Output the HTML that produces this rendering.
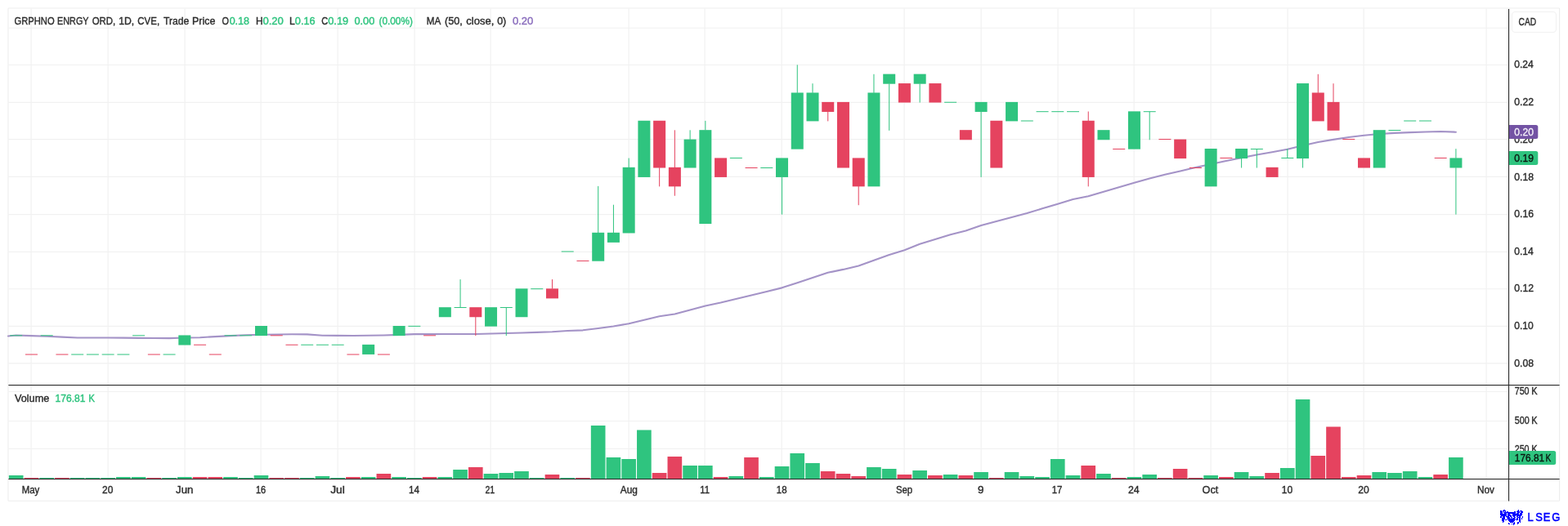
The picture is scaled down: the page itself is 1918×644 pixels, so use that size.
<!DOCTYPE html>
<html lang="en"><head><meta charset="utf-8"><title>GRPHNO ENRGY ORD - 1D chart</title>
<style>html,body{margin:0;padding:0;background:#fff;width:1918px;height:644px}svg{display:block}</style>
</head><body>
<svg width="1918" height="644" viewBox="0 0 1918 644" font-family='"Liberation Sans", Arial, Helvetica, sans-serif' font-size="12.05">
<rect x="0" y="0" width="1918" height="644" fill="#fff"/>
<rect x="10" y="10" width="1897.6" height="603.2" rx="0.8" fill="none" stroke="#ededed" stroke-width="1.1"/>
<g stroke="#f1f1f1" stroke-width="1.15" fill="none">
<path d="M38.1 10.5V586"/>
<path d="M132.1 10.5V586"/>
<path d="M226.1 10.5V586"/>
<path d="M319.1 10.5V586"/>
<path d="M413.1 10.5V586"/>
<path d="M507.1 10.5V586"/>
<path d="M600.1 10.5V586"/>
<path d="M769.1 10.5V586"/>
<path d="M862.1 10.5V586"/>
<path d="M956.1 10.5V586"/>
<path d="M1106.1 10.5V586"/>
<path d="M1200.1 10.5V586"/>
<path d="M1294.1 10.5V586"/>
<path d="M1387.1 10.5V586"/>
<path d="M1481.1 10.5V586"/>
<path d="M1575.1 10.5V586"/>
<path d="M1668.1 10.5V586"/>
<path d="M1818.1 10.5V586"/>
<path d="M10.5 34.2H1845"/>
<path d="M10.5 79.45H1845"/>
<path d="M10.5 125.3H1845"/>
<path d="M10.5 170.6H1845"/>
<path d="M10.5 216.4H1845"/>
<path d="M10.5 262.6H1845"/>
<path d="M10.5 308.3H1845"/>
<path d="M10.5 353.7H1845"/>
<path d="M10.5 399.3H1845"/>
<path d="M10.5 444.9H1845"/>
<path d="M10.5 479.50H1845"/>
<path d="M10.5 515.50H1845"/>
<path d="M10.5 549.50H1845"/>
</g>
<g>
<rect x="10.87" y="582.00" width="17.65" height="4.20" fill="#2fc47f"/>
<rect x="29.61" y="585.00" width="17.65" height="1.20" fill="#e5435f"/>
<rect x="48.35" y="585.00" width="17.65" height="1.20" fill="#2fc47f"/>
<rect x="67.08" y="585.00" width="17.65" height="1.20" fill="#e5435f"/>
<rect x="85.82" y="585.00" width="17.65" height="1.20" fill="#2fc47f"/>
<rect x="104.55" y="585.00" width="17.65" height="1.20" fill="#2fc47f"/>
<rect x="123.29" y="585.00" width="17.65" height="1.20" fill="#2fc47f"/>
<rect x="142.03" y="584.00" width="17.65" height="2.20" fill="#2fc47f"/>
<rect x="160.76" y="584.00" width="17.65" height="2.20" fill="#2fc47f"/>
<rect x="179.50" y="585.00" width="17.65" height="1.20" fill="#e5435f"/>
<rect x="198.23" y="585.00" width="17.65" height="1.20" fill="#2fc47f"/>
<rect x="216.97" y="584.00" width="17.65" height="2.20" fill="#2fc47f"/>
<rect x="235.71" y="584.00" width="17.65" height="2.20" fill="#e5435f"/>
<rect x="254.44" y="584.00" width="17.65" height="2.20" fill="#e5435f"/>
<rect x="273.18" y="584.00" width="17.65" height="2.20" fill="#2fc47f"/>
<rect x="291.91" y="585.00" width="17.65" height="1.20" fill="#2fc47f"/>
<rect x="310.65" y="582.00" width="17.65" height="4.20" fill="#2fc47f"/>
<rect x="329.39" y="585.00" width="17.65" height="1.20" fill="#e5435f"/>
<rect x="348.12" y="585.00" width="17.65" height="1.20" fill="#e5435f"/>
<rect x="366.86" y="585.00" width="17.65" height="1.20" fill="#2fc47f"/>
<rect x="385.59" y="583.00" width="17.65" height="3.20" fill="#2fc47f"/>
<rect x="404.33" y="585.00" width="17.65" height="1.20" fill="#2fc47f"/>
<rect x="423.07" y="584.00" width="17.65" height="2.20" fill="#e5435f"/>
<rect x="441.80" y="584.00" width="17.65" height="2.20" fill="#2fc47f"/>
<rect x="460.54" y="580.00" width="17.65" height="6.20" fill="#e5435f"/>
<rect x="479.27" y="584.00" width="17.65" height="2.20" fill="#2fc47f"/>
<rect x="498.01" y="585.00" width="17.65" height="1.20" fill="#2fc47f"/>
<rect x="516.75" y="584.00" width="17.65" height="2.20" fill="#e5435f"/>
<rect x="535.48" y="584.00" width="17.65" height="2.20" fill="#2fc47f"/>
<rect x="554.22" y="575.00" width="17.65" height="11.20" fill="#2fc47f"/>
<rect x="572.95" y="572.00" width="17.65" height="14.20" fill="#e5435f"/>
<rect x="591.69" y="580.00" width="17.65" height="6.20" fill="#2fc47f"/>
<rect x="610.43" y="579.00" width="17.65" height="7.20" fill="#2fc47f"/>
<rect x="629.16" y="577.00" width="17.65" height="9.20" fill="#2fc47f"/>
<rect x="647.90" y="585.00" width="17.65" height="1.20" fill="#2fc47f"/>
<rect x="666.63" y="581.00" width="17.65" height="5.20" fill="#e5435f"/>
<rect x="685.37" y="585.00" width="17.65" height="1.20" fill="#2fc47f"/>
<rect x="704.11" y="585.00" width="17.65" height="1.20" fill="#e5435f"/>
<rect x="722.84" y="521.00" width="17.65" height="65.20" fill="#2fc47f"/>
<rect x="741.58" y="560.00" width="17.65" height="26.20" fill="#2fc47f"/>
<rect x="760.31" y="562.00" width="17.65" height="24.20" fill="#2fc47f"/>
<rect x="779.05" y="526.50" width="17.65" height="59.70" fill="#2fc47f"/>
<rect x="797.79" y="579.00" width="17.65" height="7.20" fill="#e5435f"/>
<rect x="816.52" y="559.00" width="17.65" height="27.20" fill="#e5435f"/>
<rect x="835.26" y="570.00" width="17.65" height="16.20" fill="#2fc47f"/>
<rect x="853.99" y="570.00" width="17.65" height="16.20" fill="#2fc47f"/>
<rect x="872.73" y="584.00" width="17.65" height="2.20" fill="#e5435f"/>
<rect x="891.47" y="583.00" width="17.65" height="3.20" fill="#2fc47f"/>
<rect x="910.20" y="560.00" width="17.65" height="26.20" fill="#e5435f"/>
<rect x="928.94" y="584.00" width="17.65" height="2.20" fill="#2fc47f"/>
<rect x="947.67" y="571.00" width="17.65" height="15.20" fill="#2fc47f"/>
<rect x="966.41" y="555.00" width="17.65" height="31.20" fill="#2fc47f"/>
<rect x="985.15" y="567.00" width="17.65" height="19.20" fill="#2fc47f"/>
<rect x="1003.88" y="577.00" width="17.65" height="9.20" fill="#e5435f"/>
<rect x="1022.62" y="580.00" width="17.65" height="6.20" fill="#e5435f"/>
<rect x="1041.35" y="583.00" width="17.65" height="3.20" fill="#e5435f"/>
<rect x="1060.09" y="572.00" width="17.65" height="14.20" fill="#2fc47f"/>
<rect x="1078.83" y="574.00" width="17.65" height="12.20" fill="#2fc47f"/>
<rect x="1097.56" y="581.00" width="17.65" height="5.20" fill="#e5435f"/>
<rect x="1116.30" y="576.00" width="17.65" height="10.20" fill="#2fc47f"/>
<rect x="1135.03" y="582.00" width="17.65" height="4.20" fill="#e5435f"/>
<rect x="1153.77" y="581.00" width="17.65" height="5.20" fill="#2fc47f"/>
<rect x="1172.51" y="582.00" width="17.65" height="4.20" fill="#e5435f"/>
<rect x="1191.24" y="578.00" width="17.65" height="8.20" fill="#2fc47f"/>
<rect x="1209.98" y="585.00" width="17.65" height="1.20" fill="#e5435f"/>
<rect x="1228.71" y="578.00" width="17.65" height="8.20" fill="#2fc47f"/>
<rect x="1247.45" y="583.00" width="17.65" height="3.20" fill="#2fc47f"/>
<rect x="1266.19" y="584.00" width="17.65" height="2.20" fill="#2fc47f"/>
<rect x="1284.92" y="562.00" width="17.65" height="24.20" fill="#2fc47f"/>
<rect x="1303.66" y="582.00" width="17.65" height="4.20" fill="#2fc47f"/>
<rect x="1322.39" y="570.00" width="17.65" height="16.20" fill="#e5435f"/>
<rect x="1341.13" y="580.00" width="17.65" height="6.20" fill="#2fc47f"/>
<rect x="1359.87" y="585.00" width="17.65" height="1.20" fill="#e5435f"/>
<rect x="1378.60" y="584.00" width="17.65" height="2.20" fill="#2fc47f"/>
<rect x="1397.34" y="581.00" width="17.65" height="5.20" fill="#2fc47f"/>
<rect x="1416.07" y="585.00" width="17.65" height="1.20" fill="#e5435f"/>
<rect x="1434.81" y="574.00" width="17.65" height="12.20" fill="#e5435f"/>
<rect x="1453.55" y="585.00" width="17.65" height="1.20" fill="#e5435f"/>
<rect x="1472.28" y="582.00" width="17.65" height="4.20" fill="#2fc47f"/>
<rect x="1491.02" y="584.00" width="17.65" height="2.20" fill="#e5435f"/>
<rect x="1509.75" y="578.00" width="17.65" height="8.20" fill="#2fc47f"/>
<rect x="1528.49" y="583.00" width="17.65" height="3.20" fill="#2fc47f"/>
<rect x="1547.23" y="579.00" width="17.65" height="7.20" fill="#e5435f"/>
<rect x="1565.96" y="573.00" width="17.65" height="13.20" fill="#2fc47f"/>
<rect x="1584.70" y="489.00" width="17.65" height="97.20" fill="#2fc47f"/>
<rect x="1603.43" y="558.00" width="17.65" height="28.20" fill="#e5435f"/>
<rect x="1622.17" y="522.50" width="17.65" height="63.70" fill="#e5435f"/>
<rect x="1640.91" y="584.00" width="17.65" height="2.20" fill="#e5435f"/>
<rect x="1659.64" y="582.00" width="17.65" height="4.20" fill="#e5435f"/>
<rect x="1678.38" y="578.00" width="17.65" height="8.20" fill="#2fc47f"/>
<rect x="1697.11" y="579.00" width="17.65" height="7.20" fill="#2fc47f"/>
<rect x="1715.85" y="577.00" width="17.65" height="9.20" fill="#2fc47f"/>
<rect x="1734.59" y="584.00" width="17.65" height="2.20" fill="#2fc47f"/>
<rect x="1753.32" y="581.00" width="17.65" height="5.20" fill="#e5435f"/>
<rect x="1772.06" y="560.00" width="17.65" height="26.20" fill="#2fc47f"/>
</g>
<path d="M10.0 411.50 L19.7 410.43 L38.5 411.08 L57.2 411.69 L75.9 412.60 L94.7 413.50 L113.4 413.50 L132.1 413.50 L150.9 413.66 L169.6 413.85 L188.3 414.04 L207.1 414.10 L225.8 413.52 L244.6 413.21 L263.3 412.12 L282.0 411.13 L300.8 410.30 L319.5 409.70 L338.2 409.43 L357.0 409.31 L375.7 409.34 L394.4 410.74 L413.2 410.90 L431.9 410.99 L450.7 410.74 L469.4 410.48 L488.1 409.88 L506.9 409.13 L525.6 409.08 L544.3 409.05 L563.1 409.02 L581.8 408.99 L600.5 408.51 L619.3 408.04 L638.0 407.55 L656.7 406.92 L675.5 406.29 L694.2 404.96 L713.0 404.33 L731.7 401.98 L750.4 399.56 L769.2 396.21 L787.9 391.70 L806.6 387.17 L825.4 384.49 L844.1 379.47 L862.8 374.47 L881.6 370.44 L900.3 365.93 L919.1 361.42 L937.8 356.91 L956.5 352.36 L975.3 346.16 L994.0 339.97 L1012.7 333.77 L1031.5 329.90 L1050.2 325.43 L1068.9 318.70 L1087.7 311.98 L1106.4 306.26 L1125.1 298.79 L1143.9 292.99 L1162.6 287.19 L1181.4 282.51 L1200.1 275.94 L1218.8 270.94 L1237.6 265.95 L1256.3 260.95 L1275.0 255.34 L1293.8 249.71 L1312.5 244.09 L1331.2 240.17 L1350.0 234.69 L1368.7 229.18 L1387.5 223.83 L1406.2 218.49 L1424.9 213.83 L1443.7 209.44 L1462.4 205.04 L1481.1 200.98 L1499.9 197.06 L1518.6 193.13 L1537.3 189.59 L1556.1 186.21 L1574.8 182.83 L1593.5 178.30 L1612.3 173.93 L1631.0 170.89 L1649.8 168.08 L1668.5 165.79 L1687.2 163.95 L1706.0 162.83 L1724.7 162.16 L1743.4 161.50 L1762.2 160.95 L1780.9 161.69" fill="none" stroke="#a493c7" stroke-width="2.1" stroke-linejoin="round" stroke-linecap="round"/>
<g>
<rect x="12.22" y="410.29" width="15.00" height="1" fill="#2fc47f"/>
<rect x="30.96" y="433.50" width="15.00" height="1" fill="#e5435f"/>
<rect x="49.70" y="410.29" width="15.00" height="1" fill="#2fc47f"/>
<rect x="68.43" y="433.50" width="15.00" height="1" fill="#e5435f"/>
<rect x="87.17" y="433.50" width="15.00" height="1" fill="#2fc47f"/>
<rect x="105.90" y="433.50" width="15.00" height="1" fill="#2fc47f"/>
<rect x="124.64" y="433.50" width="15.00" height="1" fill="#2fc47f"/>
<rect x="143.38" y="433.50" width="15.00" height="1" fill="#2fc47f"/>
<rect x="162.11" y="410.29" width="15.00" height="1" fill="#2fc47f"/>
<rect x="180.85" y="433.50" width="15.00" height="1" fill="#e5435f"/>
<rect x="199.58" y="433.50" width="15.00" height="1" fill="#2fc47f"/>
<rect x="218.32" y="410.44" width="15.00" height="12.07" fill="#2fc47f"/>
<rect x="237.06" y="421.71" width="15.00" height="1" fill="#e5435f"/>
<rect x="255.79" y="433.50" width="15.00" height="1" fill="#e5435f"/>
<rect x="274.53" y="410.29" width="15.00" height="1" fill="#2fc47f"/>
<rect x="293.26" y="410.29" width="15.00" height="1" fill="#2fc47f"/>
<rect x="312.00" y="399.01" width="15.00" height="12.07" fill="#2fc47f"/>
<rect x="330.74" y="410.29" width="15.00" height="1" fill="#e5435f"/>
<rect x="349.47" y="421.71" width="15.00" height="1" fill="#e5435f"/>
<rect x="368.21" y="421.71" width="15.00" height="1" fill="#2fc47f"/>
<rect x="386.94" y="421.71" width="15.00" height="1" fill="#2fc47f"/>
<rect x="405.68" y="421.71" width="15.00" height="1" fill="#2fc47f"/>
<rect x="424.42" y="433.50" width="15.00" height="1" fill="#e5435f"/>
<rect x="443.15" y="421.86" width="15.00" height="12.07" fill="#2fc47f"/>
<rect x="461.89" y="433.50" width="15.00" height="1" fill="#e5435f"/>
<rect x="480.62" y="399.01" width="15.00" height="12.07" fill="#2fc47f"/>
<rect x="499.36" y="398.86" width="15.00" height="1" fill="#2fc47f"/>
<rect x="518.10" y="410.29" width="15.00" height="1" fill="#e5435f"/>
<rect x="536.83" y="376.17" width="15.00" height="12.07" fill="#2fc47f"/>
<rect x="562.57" y="342.06" width="1" height="34.46" fill="#2fc47f"/>
<rect x="555.57" y="376.02" width="15.00" height="1" fill="#2fc47f"/>
<rect x="581.30" y="387.94" width="1" height="23.14" fill="#e5435f"/>
<rect x="574.30" y="376.17" width="15.00" height="12.07" fill="#e5435f"/>
<rect x="593.04" y="376.17" width="15.00" height="23.49" fill="#2fc47f"/>
<rect x="618.78" y="376.52" width="1" height="34.56" fill="#2fc47f"/>
<rect x="611.78" y="376.02" width="15.00" height="1" fill="#2fc47f"/>
<rect x="630.51" y="353.33" width="15.00" height="34.91" fill="#2fc47f"/>
<rect x="649.25" y="353.18" width="15.00" height="1" fill="#2fc47f"/>
<rect x="674.98" y="342.06" width="1" height="11.62" fill="#e5435f"/>
<rect x="667.98" y="353.33" width="15.00" height="12.07" fill="#e5435f"/>
<rect x="686.72" y="307.49" width="15.00" height="1" fill="#2fc47f"/>
<rect x="705.46" y="318.92" width="15.00" height="1" fill="#e5435f"/>
<rect x="731.19" y="227.85" width="1" height="57.31" fill="#2fc47f"/>
<rect x="724.19" y="284.80" width="15.00" height="34.91" fill="#2fc47f"/>
<rect x="749.93" y="250.69" width="1" height="34.46" fill="#2fc47f"/>
<rect x="742.93" y="284.80" width="15.00" height="12.07" fill="#2fc47f"/>
<rect x="768.66" y="193.58" width="1" height="11.62" fill="#2fc47f"/>
<rect x="761.66" y="204.85" width="15.00" height="80.60" fill="#2fc47f"/>
<rect x="780.40" y="147.75" width="15.00" height="69.18" fill="#2fc47f"/>
<rect x="806.14" y="205.20" width="1" height="23.14" fill="#e5435f"/>
<rect x="799.14" y="147.75" width="15.00" height="57.76" fill="#e5435f"/>
<rect x="824.87" y="159.32" width="1" height="45.88" fill="#e5435f"/>
<rect x="824.87" y="228.05" width="1" height="11.72" fill="#e5435f"/>
<rect x="817.87" y="204.85" width="15.00" height="23.49" fill="#e5435f"/>
<rect x="843.61" y="159.32" width="1" height="11.62" fill="#2fc47f"/>
<rect x="836.61" y="170.59" width="15.00" height="34.91" fill="#2fc47f"/>
<rect x="862.34" y="147.90" width="1" height="11.62" fill="#2fc47f"/>
<rect x="855.34" y="159.17" width="15.00" height="114.86" fill="#2fc47f"/>
<rect x="874.08" y="193.43" width="15.00" height="23.49" fill="#e5435f"/>
<rect x="892.82" y="193.00" width="15.00" height="1" fill="#2fc47f"/>
<rect x="911.55" y="205.00" width="15.00" height="1" fill="#e5435f"/>
<rect x="930.29" y="205.00" width="15.00" height="1" fill="#2fc47f"/>
<rect x="956.02" y="216.62" width="1" height="45.98" fill="#2fc47f"/>
<rect x="949.02" y="193.43" width="15.00" height="23.49" fill="#2fc47f"/>
<rect x="974.76" y="79.37" width="1" height="34.46" fill="#2fc47f"/>
<rect x="967.76" y="113.48" width="15.00" height="69.18" fill="#2fc47f"/>
<rect x="993.50" y="102.21" width="1" height="11.62" fill="#2fc47f"/>
<rect x="986.50" y="113.48" width="15.00" height="34.91" fill="#2fc47f"/>
<rect x="1012.23" y="136.68" width="1" height="11.72" fill="#e5435f"/>
<rect x="1005.23" y="124.90" width="15.00" height="12.07" fill="#e5435f"/>
<rect x="1023.97" y="124.90" width="15.00" height="80.60" fill="#e5435f"/>
<rect x="1049.70" y="228.05" width="1" height="23.14" fill="#e5435f"/>
<rect x="1042.70" y="193.43" width="15.00" height="34.91" fill="#e5435f"/>
<rect x="1068.44" y="90.79" width="1" height="23.04" fill="#2fc47f"/>
<rect x="1061.44" y="113.48" width="15.00" height="114.86" fill="#2fc47f"/>
<rect x="1087.18" y="102.41" width="1" height="57.41" fill="#2fc47f"/>
<rect x="1080.18" y="90.64" width="15.00" height="12.07" fill="#2fc47f"/>
<rect x="1098.91" y="102.06" width="15.00" height="23.49" fill="#e5435f"/>
<rect x="1124.65" y="102.41" width="1" height="23.14" fill="#2fc47f"/>
<rect x="1117.65" y="90.64" width="15.00" height="12.07" fill="#2fc47f"/>
<rect x="1136.38" y="102.06" width="15.00" height="23.49" fill="#e5435f"/>
<rect x="1155.12" y="124.75" width="15.00" height="1" fill="#2fc47f"/>
<rect x="1173.86" y="159.17" width="15.00" height="12.07" fill="#e5435f"/>
<rect x="1199.59" y="136.68" width="1" height="80.25" fill="#2fc47f"/>
<rect x="1192.59" y="124.90" width="15.00" height="12.07" fill="#2fc47f"/>
<rect x="1211.33" y="147.75" width="15.00" height="57.76" fill="#e5435f"/>
<rect x="1230.06" y="124.90" width="15.00" height="23.49" fill="#2fc47f"/>
<rect x="1248.80" y="147.50" width="15.00" height="1" fill="#2fc47f"/>
<rect x="1267.54" y="136.18" width="15.00" height="1" fill="#2fc47f"/>
<rect x="1286.27" y="136.18" width="15.00" height="1" fill="#2fc47f"/>
<rect x="1305.01" y="136.18" width="15.00" height="1" fill="#2fc47f"/>
<rect x="1330.74" y="136.48" width="1" height="11.62" fill="#e5435f"/>
<rect x="1330.74" y="216.62" width="1" height="11.72" fill="#e5435f"/>
<rect x="1323.74" y="147.75" width="15.00" height="69.18" fill="#e5435f"/>
<rect x="1342.48" y="159.17" width="15.00" height="12.07" fill="#2fc47f"/>
<rect x="1361.22" y="182.00" width="15.00" height="1" fill="#e5435f"/>
<rect x="1379.95" y="136.33" width="15.00" height="46.33" fill="#2fc47f"/>
<rect x="1405.69" y="136.68" width="1" height="34.56" fill="#2fc47f"/>
<rect x="1398.69" y="136.18" width="15.00" height="1" fill="#2fc47f"/>
<rect x="1417.42" y="170.00" width="15.00" height="1" fill="#e5435f"/>
<rect x="1436.16" y="170.59" width="15.00" height="23.49" fill="#e5435f"/>
<rect x="1454.90" y="205.00" width="15.00" height="1" fill="#e5435f"/>
<rect x="1473.63" y="182.01" width="15.00" height="46.34" fill="#2fc47f"/>
<rect x="1492.37" y="193.00" width="15.00" height="1" fill="#e5435f"/>
<rect x="1518.10" y="193.78" width="1" height="11.72" fill="#2fc47f"/>
<rect x="1511.10" y="182.01" width="15.00" height="12.07" fill="#2fc47f"/>
<rect x="1536.84" y="182.36" width="1" height="23.14" fill="#2fc47f"/>
<rect x="1529.84" y="182.00" width="15.00" height="1" fill="#2fc47f"/>
<rect x="1548.58" y="204.85" width="15.00" height="12.07" fill="#e5435f"/>
<rect x="1574.31" y="182.16" width="1" height="11.62" fill="#2fc47f"/>
<rect x="1567.31" y="193.00" width="15.00" height="1" fill="#2fc47f"/>
<rect x="1593.05" y="193.78" width="1" height="11.72" fill="#2fc47f"/>
<rect x="1586.05" y="102.06" width="15.00" height="92.02" fill="#2fc47f"/>
<rect x="1611.78" y="90.79" width="1" height="23.04" fill="#e5435f"/>
<rect x="1604.78" y="113.48" width="15.00" height="34.91" fill="#e5435f"/>
<rect x="1630.52" y="102.21" width="1" height="23.04" fill="#e5435f"/>
<rect x="1623.52" y="124.90" width="15.00" height="34.91" fill="#e5435f"/>
<rect x="1642.26" y="170.00" width="15.00" height="1" fill="#e5435f"/>
<rect x="1660.99" y="193.43" width="15.00" height="12.07" fill="#e5435f"/>
<rect x="1679.73" y="159.17" width="15.00" height="46.33" fill="#2fc47f"/>
<rect x="1698.46" y="159.02" width="15.00" height="1" fill="#2fc47f"/>
<rect x="1717.20" y="147.50" width="15.00" height="1" fill="#2fc47f"/>
<rect x="1735.94" y="147.50" width="15.00" height="1" fill="#2fc47f"/>
<rect x="1754.67" y="193.00" width="15.00" height="1" fill="#e5435f"/>
<rect x="1780.41" y="182.16" width="1" height="11.62" fill="#2fc47f"/>
<rect x="1780.41" y="205.20" width="1" height="57.41" fill="#2fc47f"/>
<rect x="1773.41" y="193.43" width="15.00" height="12.07" fill="#2fc47f"/>
</g>
<g fill="#2b2b2b">
<rect x="1845" y="11" width="1.1" height="602.5"/>
<rect x="10.4" y="471" width="1897.2" height="1.1"/>
<rect x="10.4" y="586" width="1897.2" height="1.1"/>
</g>
<text x="1852.3" y="82.69" fill="#2e2e2e" stroke="#2e2e2e" stroke-width="0.4" textLength="23.4" lengthAdjust="spacingAndGlyphs">0.24</text>
<text x="1852.3" y="128.82" fill="#2e2e2e" stroke="#2e2e2e" stroke-width="0.4" textLength="23.66" lengthAdjust="spacingAndGlyphs">0.22</text>
<text x="1852.3" y="174.82" fill="#2e2e2e" stroke="#2e2e2e" stroke-width="0.4" textLength="23.4" lengthAdjust="spacingAndGlyphs">0.20</text>
<text x="1852.3" y="220.82" fill="#2e2e2e" stroke="#2e2e2e" stroke-width="0.4" textLength="23.66" lengthAdjust="spacingAndGlyphs">0.18</text>
<text x="1852.3" y="265.88" fill="#2e2e2e" stroke="#2e2e2e" stroke-width="0.4" textLength="23.66" lengthAdjust="spacingAndGlyphs">0.16</text>
<text x="1852.3" y="311.82" fill="#2e2e2e" stroke="#2e2e2e" stroke-width="0.4" textLength="23.4" lengthAdjust="spacingAndGlyphs">0.14</text>
<text x="1852.3" y="356.97" fill="#2e2e2e" stroke="#2e2e2e" stroke-width="0.4" textLength="23.66" lengthAdjust="spacingAndGlyphs">0.12</text>
<text x="1852.3" y="402.82" fill="#2e2e2e" stroke="#2e2e2e" stroke-width="0.4" textLength="23.4" lengthAdjust="spacingAndGlyphs">0.10</text>
<text x="1852.3" y="449.38" fill="#2e2e2e" stroke="#2e2e2e" stroke-width="0.4" textLength="23.66" lengthAdjust="spacingAndGlyphs">0.08</text>
<text x="1852.75" y="482.7" fill="#2e2e2e" stroke="#2e2e2e" stroke-width="0.4" textLength="17.82" lengthAdjust="spacingAndGlyphs">750</text>
<text x="1873.15" y="482.7" fill="#2e2e2e" stroke="#2e2e2e" stroke-width="0.4" textLength="7.3" lengthAdjust="spacingAndGlyphs">K</text>
<text x="1852.75" y="518.6" fill="#2e2e2e" stroke="#2e2e2e" stroke-width="0.4" textLength="17.84" lengthAdjust="spacingAndGlyphs">500</text>
<text x="1873.15" y="518.6" fill="#2e2e2e" stroke="#2e2e2e" stroke-width="0.4" textLength="7.3" lengthAdjust="spacingAndGlyphs">K</text>
<text x="1852.75" y="554.3" fill="#2e2e2e" stroke="#2e2e2e" stroke-width="0.4" textLength="17.82" lengthAdjust="spacingAndGlyphs">250</text>
<text x="1873.15" y="554.3" fill="#2e2e2e" stroke="#2e2e2e" stroke-width="0.4" textLength="7.3" lengthAdjust="spacingAndGlyphs">K</text>
<path d="M1846 153.00h32.8a2.5 2.5 0 0 1 2.5 2.5v12a2.5 2.5 0 0 1 -2.5 2.5h-32.8z" fill="#7353a4"/>
<text x="1852.35" y="165.8" fill="#f6f2fb" stroke="#f6f2fb" stroke-width="0.3" textLength="23.51" lengthAdjust="spacingAndGlyphs">0.20</text>
<path d="M1846 185.00h32.8a2.5 2.5 0 0 1 2.5 2.5v12a2.5 2.5 0 0 1 -2.5 2.5h-32.8z" fill="#2fc47f"/>
<text x="1852.35" y="197.8" fill="#0b1a12" stroke="#0b1a12" stroke-width="0.4" textLength="23.51" lengthAdjust="spacingAndGlyphs">0.19</text>
<path d="M1846 552.00h54.7a2.5 2.5 0 0 1 2.5 2.5v12a2.5 2.5 0 0 1 -2.5 2.5h-54.7z" fill="#2fc47f"/>
<text x="1852.85" y="565.2" fill="#0b1a12" stroke="#0b1a12" stroke-width="0.4" textLength="36.29" lengthAdjust="spacingAndGlyphs">176.81</text>
<text x="1890.45" y="565.2" fill="#0b1a12" stroke="#0b1a12" stroke-width="0.4" textLength="6.72" lengthAdjust="spacingAndGlyphs">K</text>
<rect x="1849.5" y="14.5" width="54" height="25" rx="4" ry="4" fill="#fff" stroke="#f1f1f1" stroke-width="1.1"/>
<text x="1857.55" y="30.6" fill="#2e2e2e" stroke="#2e2e2e" stroke-width="0.4" textLength="21.55" lengthAdjust="spacingAndGlyphs">CAD</text>
<text x="26.7" y="603.7" fill="#2e2e2e" stroke="#2e2e2e" stroke-width="0.4" textLength="21.54" lengthAdjust="spacingAndGlyphs">May</text>
<text x="125.1" y="603.7" fill="#2e2e2e" stroke="#2e2e2e" stroke-width="0.4" textLength="13.3" lengthAdjust="spacingAndGlyphs">20</text>
<text x="215.1" y="603.7" fill="#2e2e2e" stroke="#2e2e2e" stroke-width="0.4" textLength="21.25" lengthAdjust="spacingAndGlyphs">Jun</text>
<text x="312.95" y="603.7" fill="#2e2e2e" stroke="#2e2e2e" stroke-width="0.4" textLength="12.26" lengthAdjust="spacingAndGlyphs">16</text>
<text x="404.2" y="603.7" fill="#2e2e2e" stroke="#2e2e2e" stroke-width="0.4" textLength="17.6" lengthAdjust="spacingAndGlyphs">Jul</text>
<text x="500.05" y="603.7" fill="#2e2e2e" stroke="#2e2e2e" stroke-width="0.4" textLength="13.09" lengthAdjust="spacingAndGlyphs">14</text>
<text x="593.45" y="603.7" fill="#2e2e2e" stroke="#2e2e2e" stroke-width="0.4" textLength="11.86" lengthAdjust="spacingAndGlyphs">21</text>
<text x="758.75" y="603.7" fill="#2e2e2e" stroke="#2e2e2e" stroke-width="0.4" textLength="21.13" lengthAdjust="spacingAndGlyphs">Aug</text>
<text x="856.35" y="603.7" fill="#2e2e2e" stroke="#2e2e2e" stroke-width="0.4" textLength="11.68" lengthAdjust="spacingAndGlyphs">11</text>
<text x="949.75" y="603.7" fill="#2e2e2e" stroke="#2e2e2e" stroke-width="0.4" textLength="12.81" lengthAdjust="spacingAndGlyphs">18</text>
<text x="1095.95" y="603.7" fill="#2e2e2e" stroke="#2e2e2e" stroke-width="0.4" textLength="20.15" lengthAdjust="spacingAndGlyphs">Sep</text>
<text x="1196.1" y="603.7" fill="#2e2e2e" stroke="#2e2e2e" stroke-width="0.4" textLength="7.44" lengthAdjust="spacingAndGlyphs">9</text>
<text x="1286.65" y="603.7" fill="#2e2e2e" stroke="#2e2e2e" stroke-width="0.4" textLength="12.59" lengthAdjust="spacingAndGlyphs">17</text>
<text x="1380.0" y="603.7" fill="#2e2e2e" stroke="#2e2e2e" stroke-width="0.4" textLength="13.67" lengthAdjust="spacingAndGlyphs">24</text>
<text x="1470.6" y="603.7" fill="#2e2e2e" stroke="#2e2e2e" stroke-width="0.4" textLength="19.73" lengthAdjust="spacingAndGlyphs">Oct</text>
<text x="1567.85" y="603.7" fill="#2e2e2e" stroke="#2e2e2e" stroke-width="0.4" textLength="13.35" lengthAdjust="spacingAndGlyphs">10</text>
<text x="1661.3" y="603.7" fill="#2e2e2e" stroke="#2e2e2e" stroke-width="0.4" textLength="13.41" lengthAdjust="spacingAndGlyphs">20</text>
<text x="1807.05" y="603.7" fill="#2e2e2e" stroke="#2e2e2e" stroke-width="0.4" textLength="20.97" lengthAdjust="spacingAndGlyphs">Nov</text>
<text x="17.5" y="29.9" fill="#2e2e2e" stroke="#2e2e2e" stroke-width="0.4" textLength="49.13" lengthAdjust="spacingAndGlyphs">GRPHNO</text>
<text x="70.05" y="29.9" fill="#2e2e2e" stroke="#2e2e2e" stroke-width="0.4" textLength="38.46" lengthAdjust="spacingAndGlyphs">ENRGY</text>
<text x="112.65" y="29.9" fill="#2e2e2e" stroke="#2e2e2e" stroke-width="0.4" textLength="28.56" lengthAdjust="spacingAndGlyphs">ORD,</text>
<text x="145.15" y="29.9" fill="#2e2e2e" stroke="#2e2e2e" stroke-width="0.4" textLength="19.03" lengthAdjust="spacingAndGlyphs">1D,</text>
<text x="168.3" y="29.9" fill="#2e2e2e" stroke="#2e2e2e" stroke-width="0.4" textLength="26.81" lengthAdjust="spacingAndGlyphs">CVE,</text>
<text x="200.0" y="29.9" fill="#2e2e2e" stroke="#2e2e2e" stroke-width="0.4" textLength="31.28" lengthAdjust="spacingAndGlyphs">Trade</text>
<text x="235.05" y="29.9" fill="#2e2e2e" stroke="#2e2e2e" stroke-width="0.4" textLength="28.29" lengthAdjust="spacingAndGlyphs">Price</text>
<text x="271.55" y="29.9" fill="#2e2e2e" stroke="#2e2e2e" stroke-width="0.4" textLength="8.45" lengthAdjust="spacingAndGlyphs">O</text>
<text x="280.65" y="29.9" fill="#2fc47f" stroke="#2fc47f" stroke-width="0.4" textLength="24.38" lengthAdjust="spacingAndGlyphs">0.18</text>
<text x="312.95" y="29.9" fill="#2e2e2e" stroke="#2e2e2e" stroke-width="0.4" textLength="8.53" lengthAdjust="spacingAndGlyphs">H</text>
<text x="321.45" y="29.9" fill="#2fc47f" stroke="#2fc47f" stroke-width="0.4" textLength="25.39" lengthAdjust="spacingAndGlyphs">0.20</text>
<text x="354.05" y="29.9" fill="#2e2e2e" stroke="#2e2e2e" stroke-width="0.4" textLength="6.77" lengthAdjust="spacingAndGlyphs">L</text>
<text x="360.85" y="29.9" fill="#2fc47f" stroke="#2fc47f" stroke-width="0.4" textLength="24.69" lengthAdjust="spacingAndGlyphs">0.16</text>
<text x="393.2" y="29.9" fill="#2e2e2e" stroke="#2e2e2e" stroke-width="0.4" textLength="7.95" lengthAdjust="spacingAndGlyphs">C</text>
<text x="401.25" y="29.9" fill="#2fc47f" stroke="#2fc47f" stroke-width="0.4" textLength="24.85" lengthAdjust="spacingAndGlyphs">0.19</text>
<text x="433.55" y="29.9" fill="#2fc47f" stroke="#2fc47f" stroke-width="0.4" textLength="24.68" lengthAdjust="spacingAndGlyphs">0.00</text>
<text x="463.5" y="29.9" fill="#2fc47f" stroke="#2fc47f" stroke-width="0.4" textLength="41.37" lengthAdjust="spacingAndGlyphs">(0.00%)</text>
<text x="521.75" y="29.9" fill="#2e2e2e" stroke="#2e2e2e" stroke-width="0.4" textLength="17.46" lengthAdjust="spacingAndGlyphs">MA</text>
<text x="544.1" y="29.9" fill="#2e2e2e" stroke="#2e2e2e" stroke-width="0.4" textLength="21.67" lengthAdjust="spacingAndGlyphs">(50,</text>
<text x="570.35" y="29.9" fill="#2e2e2e" stroke="#2e2e2e" stroke-width="0.4" textLength="33.93" lengthAdjust="spacingAndGlyphs">close,</text>
<text x="608.15" y="29.9" fill="#2e2e2e" stroke="#2e2e2e" stroke-width="0.4" textLength="11.04" lengthAdjust="spacingAndGlyphs">0)</text>
<text x="626.95" y="29.9" fill="#8a6dbd" stroke="#8a6dbd" stroke-width="0.4" textLength="25.29" lengthAdjust="spacingAndGlyphs">0.20</text>
<text x="18.05" y="491.7" fill="#2e2e2e" stroke="#2e2e2e" stroke-width="0.4" textLength="42.15" lengthAdjust="spacingAndGlyphs">Volume</text>
<text x="67.55" y="491.7" fill="#2fc47f" stroke="#2fc47f" stroke-width="0.4" textLength="37.02" lengthAdjust="spacingAndGlyphs">176.81</text>
<text x="108.15" y="491.7" fill="#2fc47f" stroke="#2fc47f" stroke-width="0.4" textLength="7.73" lengthAdjust="spacingAndGlyphs">K</text>
<path fill="#0000ff" shape-rendering="crispEdges" d="M1839 624h2v1h-2zM1857 624h1v1h-1zM1835 625h2v1h-2zM1838 625h4v1h-4zM1856 625h2v1h-2zM1859 625h3v1h-3zM1835 626h3v1h-3zM1839 626h1v1h-1zM1841 626h1v1h-1zM1843 626h2v1h-2zM1852 626h2v1h-2zM1855 626h4v1h-4zM1860 626h3v1h-3zM1835 627h3v1h-3zM1839 627h2v1h-2zM1841 627h13v1h-13zM1856 627h3v1h-3zM1860 627h3v1h-3zM1835 628h3v1h-3zM1840 628h3v1h-3zM1844 628h10v1h-10zM1855 628h3v1h-3zM1859 628h3v1h-3zM1835 629h8v1h-8zM1844 629h3v1h-3zM1850 629h8v1h-8zM1859 629h3v1h-3zM1835 630h8v1h-8zM1844 630h4v1h-4zM1850 630h12v1h-12zM1836 631h7v1h-7zM1844 631h5v1h-5zM1850 631h4v1h-4zM1855 631h6v1h-6zM1835 632h2v1h-2zM1838 632h3v1h-3zM1842 632h4v1h-4zM1847 632h2v1h-2zM1851 632h2v1h-2zM1855 632h2v1h-2zM1858 632h2v1h-2zM1862 632h1v1h-1zM1835 633h2v1h-2zM1838 633h3v1h-3zM1843 633h4v1h-4zM1848 633h2v1h-2zM1852 633h2v1h-2zM1856 633h4v1h-4zM1862 633h1v1h-1zM1837 634h4v1h-4zM1844 634h3v1h-3zM1848 634h1v1h-1zM1850 634h3v1h-3zM1855 634h2v1h-2zM1858 634h2v1h-2zM1861 634h1v1h-1zM1837 635h4v1h-4zM1843 635h11v1h-11zM1855 635h2v1h-2zM1858 635h2v1h-2zM1861 635h1v1h-1zM1837 636h3v1h-3zM1841 636h2v1h-2zM1845 636h8v1h-8zM1854 636h3v1h-3zM1858 636h2v1h-2zM1837 637h3v1h-3zM1845 637h8v1h-8zM1858 637h2v1h-2zM1838 638h2v1h-2zM1846 638h6v1h-6zM1858 638h2v1h-2zM1838 639h1v1h-1zM1847 639h4v1h-4zM1852 639h1v1h-1zM1856 639h2v1h-2zM1859 639h1v1h-1zM1845 640h1v1h-1zM1851 640h2v1h-2zM1856 640h2v1h-2zM1845 641h2v1h-2zM1849 641h1v1h-1zM1851 641h2v1h-2zM1856 641h1v1h-1zM1851 642h1v1h-1z"/>
<text transform="scale(0.84 1)" x="2224.38 2235.95 2247.20 2259.76" y="638.5" font-size="15.4" fill="#0000ff" stroke="#0000ff" stroke-width="0.6">LSEG</text>
</svg>
</body></html>
